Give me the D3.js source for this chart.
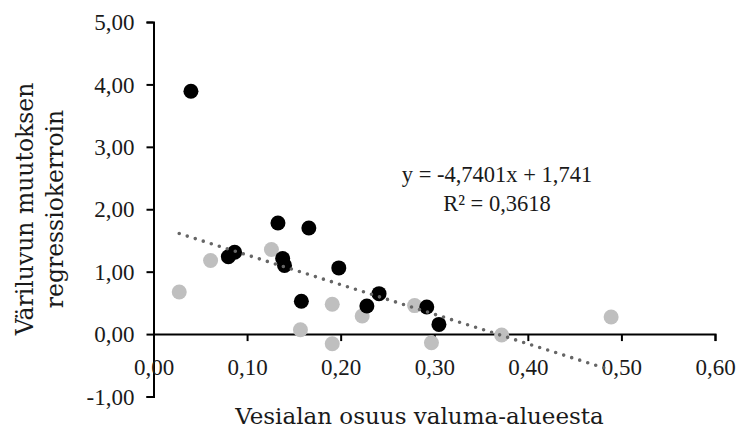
<!DOCTYPE html>
<html>
<head>
<meta charset="utf-8">
<script src="https://cdn.jsdelivr.net/npm/d3@7"></script>
<style>
  html, body { margin: 0; padding: 0; background: #fff; }
  svg { display: block; }
  text { fill: #1a1a1a; }
  .num { font-family: "Liberation Serif", "Times New Roman", serif; }
  .title { font-family: "DejaVu Serif", serif; }
</style>
</head>
<body>
<svg id="chart" width="739" height="430"></svg>
<script>
// Share of lake area in the catchment (x) and regression coefficient of colour change (y)
const greyX = [0.0275, 0.061, 0.126, 0.157, 0.191, 0.191, 0.223, 0.279, 0.297, 0.372, 0.489];
const greyY = [0.674, 1.18, 1.355, 0.07, 0.477, -0.154, 0.29, 0.456, -0.138, -0.015, 0.273];
const blackX = [0.040, 0.080, 0.0867, 0.133, 0.138, 0.140, 0.158, 0.166, 0.198, 0.228, 0.241, 0.292, 0.305];
const blackY = [3.89, 1.24, 1.31, 1.78, 1.21, 1.10, 0.525, 1.70, 1.06, 0.45, 0.648, 0.434, 0.155];

// Linear trend over all points
const slope = -4.7401;
const intercept = 1.741;
const rSquared = "0,3618";

const xTicks = [0, 0.1, 0.2, 0.3, 0.4, 0.5, 0.6];
const yTicks = [-1, 0, 1, 2, 3, 4, 5];

const xTitle = "Vesialan osuus valuma-alueesta";
const yTitleLines = ["Väriluvun muutoksen", "regressiokerroin"];

const svg = d3.select("#chart");

const x = d3.scaleLinear().domain([0, 0.6]).range([153.5, 715]);
const y = d3.scaleLinear().domain([-1, 5]).range([396.5, 22]);

// Finnish decimal comma and a plain hyphen for negatives
const fmt = v => d3.format(".2f")(v).replace(".", ",").replace("\u2212", "-");

// Y axis on the left edge
const yAxis = svg.append("g")
  .attr("transform", `translate(${x(0)},0)`)
  .call(d3.axisLeft(y).tickValues(yTicks).tickSize(7).tickPadding(12).tickFormat(fmt));
yAxis.select(".domain").attr("stroke", "#000").attr("stroke-width", 2);
yAxis.selectAll(".tick line").attr("stroke", "#000").attr("stroke-width", 2);
yAxis.selectAll(".tick text")
  .attr("class", "num")
  .attr("fill", "#1a1a1a")
  .style("font-size", "23px")
  .attr("dy", "0.33em")
  .attr("font-family", null);

// X axis crossing at y = 0
const xAxis = svg.append("g")
  .attr("transform", `translate(0,${y(0)})`)
  .call(d3.axisBottom(x).tickValues(xTicks).tickSize(7).tickFormat(fmt));
xAxis.select(".domain").attr("stroke", "#000").attr("stroke-width", 2);
xAxis.selectAll(".tick line").attr("stroke", "#000").attr("stroke-width", 2);
xAxis.selectAll(".tick text")
  .attr("class", "num")
  .attr("fill", "#1a1a1a")
  .style("font-size", "23px")
  .attr("y", 40.5)
  .attr("dy", null);
svg.selectAll("g").attr("font-family", null);

// Points: grey series first, black series on top
svg.append("g").selectAll("circle")
  .data(d3.zip(greyX, greyY))
  .join("circle")
  .attr("cx", d => x(d[0]))
  .attr("cy", d => y(d[1]))
  .attr("r", 7.5)
  .attr("fill", "#bfbfbf");

svg.append("g").selectAll("circle")
  .data(d3.zip(blackX, blackY))
  .join("circle")
  .attr("cx", d => x(d[0]))
  .attr("cy", d => y(d[1]))
  .attr("r", 7.5)
  .attr("fill", "#000");

// Dotted trend line across the data range
const allX = greyX.concat(blackX);
const x0 = d3.min(allX), x1 = d3.max(allX);
svg.append("line")
  .attr("x1", x(x0)).attr("y1", y(slope * x0 + intercept))
  .attr("x2", x(x1)).attr("y2", y(slope * x1 + intercept))
  .attr("stroke", "#666")
  .attr("stroke-width", 3.6)
  .attr("stroke-linecap", "round")
  .attr("stroke-dasharray", "0 8.4");

// Regression equation
const eq = svg.append("text")
  .attr("class", "num")
  .attr("text-anchor", "middle")
  .style("font-size", "22.5px");
eq.append("tspan").attr("x", 497).attr("y", 182)
  .text(`y = ${String(slope).replace(".", ",")}x + ${String(intercept).replace(".", ",")}`);
eq.append("tspan").attr("x", 497).attr("y", 211)
  .text(`R² = ${rSquared}`);

// Axis titles
svg.append("text")
  .attr("class", "title")
  .attr("x", 419.5).attr("y", 424)
  .attr("text-anchor", "middle")
  .style("font-size", "23px")
  .text(xTitle);

const yt = svg.append("text")
  .attr("class", "title")
  .attr("transform", "translate(0,209) rotate(-90)")
  .attr("text-anchor", "middle")
  .style("font-size", "23.5px");
yt.append("tspan").attr("x", 0).attr("y", 33).text(yTitleLines[0]);
yt.append("tspan").attr("x", 0).attr("y", 63).text(yTitleLines[1]);
</script>
</body>
</html>
